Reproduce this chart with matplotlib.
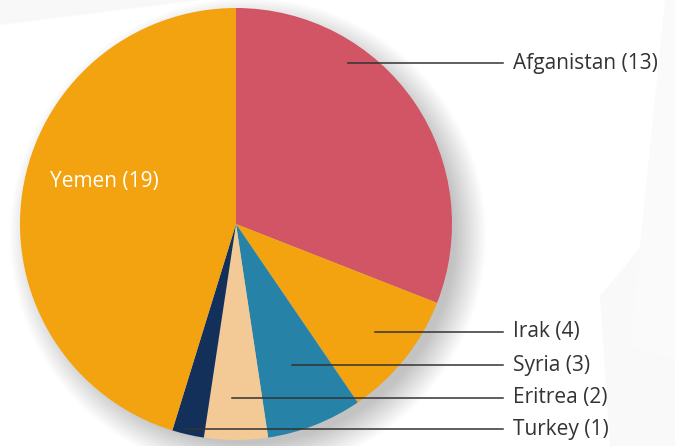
import numpy as np
import matplotlib.pyplot as plt
from matplotlib.patches import Circle, Polygon

plt.rcParams['font.family'] = ['Open Sans', 'DejaVu Sans']

# data
countries = ['Afganistan', 'Irak', 'Syria', 'Eritrea', 'Turkey', 'Yemen']
counts = [13, 4, 3, 2, 1, 19]
colors = ['#D15565', '#F2A30F', '#2682A6', '#F3C995', '#12305A', '#F2A30F']

# label layout (pixel coords: line start x, label y)
label_pos = {'Afganistan': (348, 63), 'Irak': (375, 332), 'Syria': (292, 365),
             'Eritrea': (232, 398), 'Turkey': (186, 429)}

W, H = 675, 446
fig = plt.figure(figsize=(6.75, 4.46), dpi=100)
ax = fig.add_axes([0, 0, 1, 1])

# faint background shapes
ax.add_patch(Polygon([[610, 0], [675, 0], [675, 240], [600, 150]], closed=True,
                     fc='#f9f9f9', ec='none', zorder=0))
ax.add_patch(Polygon([[665, H], [675, H], [675, 86], [630, 100]], closed=True,
                     fc='#fafafa', ec='none', zorder=0))
ax.add_patch(Polygon([[0, H], [200, H], [0, H - 25]], closed=True,
                     fc='#f8f8f8', ec='none', zorder=0))

cx, cy, r = 236, H - 224, 216

# soft shadow, towards bottom right
for i in range(20):
    ax.add_patch(Circle((cx + 12, cy - 12), r + 22 - i * 1.6, fc='#000000',
                        alpha=0.011, ec='none', zorder=1))

wedges, _ = ax.pie(counts, colors=colors, startangle=90, counterclock=False,
                   center=(cx, cy), radius=r, frame=True,
                   wedgeprops=dict(linewidth=0, zorder=2))
ax.set_xlim(0, W)
ax.set_ylim(0, H)
ax.set_aspect('equal')
ax.axis('off')

for name, n in zip(countries, counts):
    if name in label_pos:
        x0, y = label_pos[name]
        ax.plot([x0, 503], [H - y, H - y], color='#333333', lw=1.1, zorder=3)
        ax.text(513, H - y, f'{name} ({n})', fontsize=15, color='#333333',
                va='center', ha='left', zorder=3)

ax.text(50, H - 182, f'{countries[5]} ({counts[5]})', fontsize=15,
        color='white', va='center', ha='left', zorder=3)

fig.savefig('out.png', dpi=100)
